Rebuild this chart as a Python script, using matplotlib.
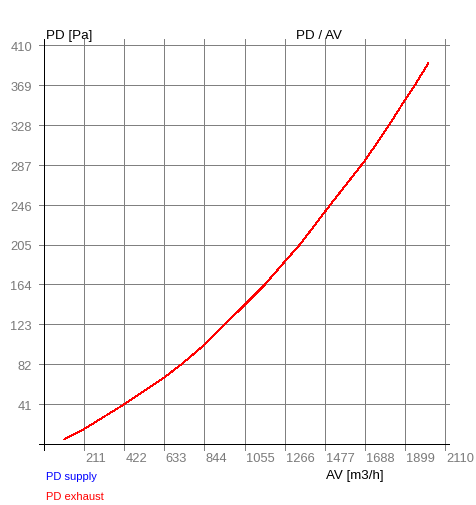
import matplotlib
matplotlib.use("Agg")
import matplotlib.pyplot as plt
from matplotlib.transforms import ScaledTranslation

plt.rcParams['font.family'] = ['Liberation Sans', 'DejaVu Sans']

# data
av = [107, 211, 422, 633, 724, 844, 952, 1055, 1163, 1266, 1347, 1505, 1688, 1817, 1899, 1952, 2022]
pd_supply = [4.8, 15.4, 40.8, 68.5, 82, 102, 123, 142.8, 164, 187.3, 205, 245.5, 291, 328, 353.5, 369, 391.2]
pd_exhaust = [4.8, 15.4, 40.8, 68.5, 82, 102, 123, 142.8, 164, 187.3, 205, 245.5, 291, 328, 353.5, 369, 391.2]

x_ticks = [0, 211, 422, 633, 844, 1055, 1266, 1477, 1688, 1899, 2110]
y_ticks = [0, 41, 82, 123, 164, 205, 246, 287, 328, 369, 410]
x_labels = ["", "211", "422", "633", "844", "1055", "1266", "1477", "1688", "1899", "2110"]
y_labels = ["", "41", "82", "123", "164", "205", "246", "287", "328", "369", "410"]

W, H = 476, 506
fig = plt.figure(figsize=(W / 100, H / 100), dpi=100)
ax = fig.add_axes([44 / W, 1 - 445 / H, (445 - 44) / W, (445 - 46) / H])
ax.set_xlim(x_ticks[0], x_ticks[-1])
ax.set_ylim(y_ticks[0], y_ticks[-1])
ax.set_axis_off()

grid_c = '#808080'
# extension in data units for a few pixels
px_x = (x_ticks[-1] - x_ticks[0]) / 401.0
px_y = (y_ticks[-1] - y_ticks[0]) / 399.0
lw_grid = 0.72
for xv in x_ticks[1:]:
    ax.plot([xv, xv], [y_ticks[0] - 6 * px_y, y_ticks[-1] + 6 * px_y], color=grid_c,
            lw=lw_grid, clip_on=False, zorder=1, solid_capstyle='butt', antialiased=False)
for yv in y_ticks[1:]:
    ax.plot([x_ticks[0] - 5 * px_x, x_ticks[-1] + 4 * px_x], [yv, yv], color=grid_c,
            lw=lw_grid, clip_on=False, zorder=1, solid_capstyle='butt', antialiased=False)
# black axes lines
ax.plot([x_ticks[0], x_ticks[0]], [y_ticks[0] - 6 * px_y, y_ticks[-1] + 6 * px_y], color='black',
        lw=lw_grid, clip_on=False, zorder=2, solid_capstyle='butt', antialiased=False)
ax.plot([x_ticks[0] - 5 * px_x, x_ticks[-1] + 4 * px_x], [y_ticks[0], y_ticks[0]], color='black',
        lw=lw_grid, clip_on=False, zorder=2, solid_capstyle='butt', antialiased=False)

ax.plot(av, pd_supply, color='#0000ff', lw=0.6, zorder=3, antialiased=False)
ax.plot(av, pd_exhaust, color='#ff0000', lw=0.6, zorder=4, antialiased=False)

tick_c = '#7a7a7a'
fs_tick = 9.3
for xv, lab in zip(x_ticks, x_labels):
    tr = ax.get_xaxis_transform() + ScaledTranslation(1.5 / 100, -8 / 100, fig.dpi_scale_trans)
    ax.text(xv, 0, lab, transform=tr, ha='left', va='top', fontsize=fs_tick, color=tick_c, clip_on=False)
for yv, lab in zip(y_ticks, y_labels):
    tr = ax.get_yaxis_transform() + ScaledTranslation(-12 / 100, -2 / 100, fig.dpi_scale_trans)
    ax.text(0, yv, lab, transform=tr, ha='right', va='center', fontsize=fs_tick, color=tick_c, clip_on=False)

fig.text(46 / W, 1 - 39 / H, "PD [Pa]", ha='left', va='baseline', fontsize=9.6, color='black')
fig.text(296 / W, 1 - 39 / H, "PD / AV", ha='left', va='baseline', fontsize=9.6, color='black')
fig.text(355 / W, 1 - 479 / H, "AV [m3/h]", ha='center', va='baseline', fontsize=9.6, color='black')
fig.text(46.5 / W, 1 - 480 / H, "PD supply", ha='left', va='baseline', fontsize=8, color='#0000ff')
fig.text(46.5 / W, 1 - 500 / H, "PD exhaust", ha='left', va='baseline', fontsize=8, color='#ff0000')

fig.savefig("out.png", dpi=100)
